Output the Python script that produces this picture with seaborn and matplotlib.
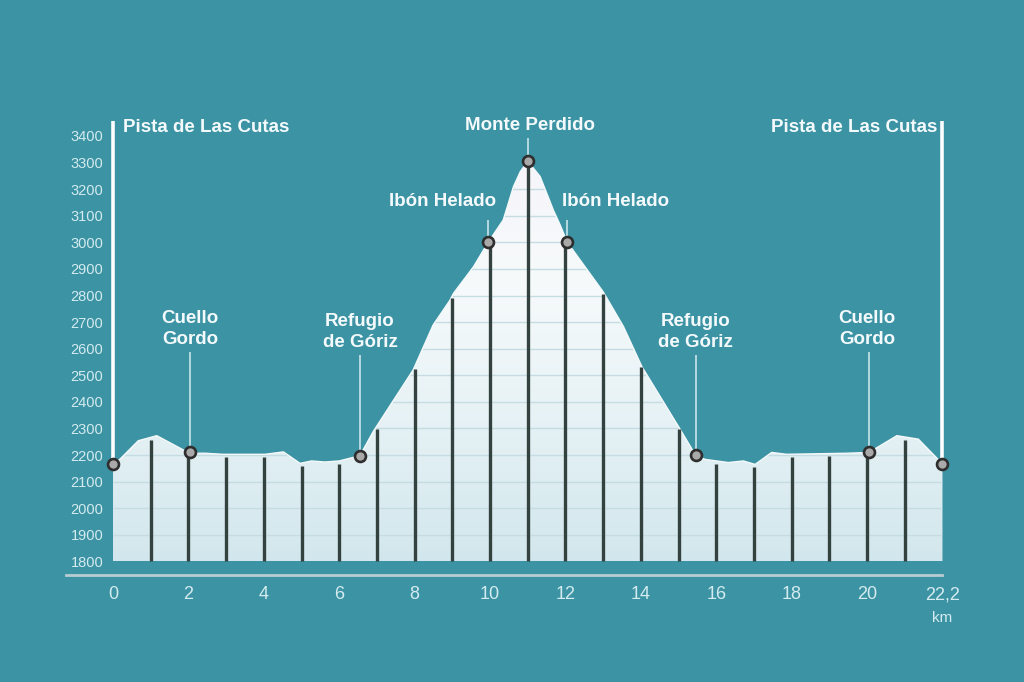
import numpy as np
import matplotlib
matplotlib.use("Agg")
import matplotlib.pyplot as plt
from matplotlib.patches import PathPatch
from matplotlib.colors import LinearSegmentedColormap
import seaborn as sns

# ---------------- data ----------------
dist_km = [0, 0.18, 0.67, 1.16, 1.95, 2.05, 2.44, 2.92, 4.03, 4.52, 4.96, 5.27, 5.62,
           6.0, 6.55, 6.90, 7.96, 8.49, 8.94, 9.03, 9.56, 9.95, 10.35, 10.62, 10.80,
           11.0, 11.33, 11.68, 11.86, 12.05, 13.0, 13.54, 14.03, 15.0, 15.45, 15.7,
           16.32, 16.72, 17.03, 17.47, 17.87, 19.46, 20.05, 20.79, 21.36, 22.0]
elev_m = [2167, 2184, 2254, 2273, 2213, 2207, 2207, 2203, 2203, 2212, 2169, 2178, 2174,
          2178, 2198, 2288, 2520, 2689, 2783, 2808, 2908, 3000, 3084, 3209, 3265,
          3305, 3247, 3121, 3065, 3000, 2814, 2683, 2532, 2307, 2200, 2184,
          2172, 2178, 2165, 2210, 2203, 2207, 2210, 2273, 2260, 2167]

wp_names = ["Pista de Las Cutas", "Cuello\nGordo", "Refugio\nde Góriz", "Ibón Helado",
            "Monte Perdido", "Ibón Helado", "Refugio\nde Góriz", "Cuello\nGordo",
            "Pista de Las Cutas"]
wp_km = [0, 2.05, 6.55, 9.95, 11.0, 12.05, 15.45, 20.05, 22.0]
wp_elev = [2167, 2210, 2198, 3000, 3305, 3000, 2200, 2210, 2167]

km_marks = list(range(1, 22))
y_ticks = list(range(1800, 3401, 100))
x_ticks = [0, 2, 4, 6, 8, 10, 12, 14, 16, 18, 20, 22]
x_labels = ["0", "2", "4", "6", "8", "10", "12", "14", "16", "18", "20", "22,2"]

# ---------------- layout (label placement) ----------------
lab_x = [0.27, 2.04, 6.55, 8.75, 11.05, 13.32, 15.46, 20.0, 21.87]
lab_y = [3433, 2674, 2663, 3152, 3441, 3152, 2663, 2674, 3433]
lab_ha = ["left", "center", "center", "center", "center", "center", "center", "center", "right"]
leader_top = [3457, 2588, 2576, 3084, 3392, 3084, 2576, 2588, 3457]
leader_lw = [2.6, 1.1, 1.1, 1.1, 1.1, 1.1, 1.1, 1.1, 2.6]

BG = "#3b93a4"
sns.set_theme(style="white", rc={"axes.facecolor": BG, "figure.facecolor": BG})
plt.rcParams["font.family"] = ["Liberation Sans", "DejaVu Sans"]

fig = plt.figure(figsize=(10.24, 6.82), dpi=100)
ax = fig.add_axes([66 / 1024, 1 - 575 / 682, 904 / 1024, 475 / 682])

base = y_ticks[0]
xlim = (-1.247, 22.73)
ylim = (1749.2, 3535)

# fill polygon (for clipping)
poly = ax.fill_between(dist_km, elev_m, base, color="none", linewidth=0)
patch = PathPatch(poly.get_paths()[0], transform=ax.transData, facecolor="none",
                  edgecolor="none")
ax.add_patch(patch)

cmap = LinearSegmentedColormap.from_list(
    "snow", [(0, "#d2e7ed"), (0.35, "#e6f2f5"), (0.7, "#f7fafb"), (1.0, "#f6f5fa")])
grad = np.linspace(0, 1, 256).reshape(-1, 1)
im = ax.imshow(grad, cmap=cmap, origin="lower", aspect="auto",
               extent=[dist_km[0], dist_km[-1], base, max(elev_m)], zorder=1)
im.set_clip_path(patch)

# horizontal grid inside the profile
gl = ax.hlines(y_ticks[1:], dist_km[0], dist_km[-1], color="#c6dce3", lw=1.0, zorder=2)
gl.set_clip_path(patch)

# profile edge
sns.lineplot(x=dist_km, y=elev_m, color="#f4f9fa", lw=1.0, estimator=None, ax=ax,
             zorder=3)

# dark km bars
tops = np.interp(km_marks, dist_km, elev_m) - 10
ax.vlines(km_marks, base, tops, color="#34423f", lw=2.4, zorder=4)

# leaders and labels
for name, x, e, lx, ly, ha, lt, lw in zip(wp_names, wp_km, wp_elev, lab_x, lab_y,
                                           lab_ha, leader_top, leader_lw):
    col = "#ffffff" if lw > 2 else "#d6ecf0"
    ax.plot([x, x], [e, lt], color=col, lw=lw, zorder=5, solid_capstyle="butt")
    ax.text(lx, ly, name, ha=ha, va="center", color="#f4fafb", fontsize=13.5,
            fontweight="bold", linespacing=1.3, zorder=7)

sns.scatterplot(x=wp_km, y=wp_elev, s=62, color="#a9a9a9", edgecolor="#2e2e2e",
                linewidth=1.9, zorder=6, ax=ax)

ax.set_xlim(*xlim)
ax.set_ylim(*ylim)

# axes styling
for s in ["top", "right"]:
    ax.spines[s].set_visible(False)
ax.spines["left"].set_position(("data", 0))
ax.spines["left"].set_visible(False)
ax.spines["bottom"].set_color("#b9cdd1")
ax.spines["bottom"].set_linewidth(2)
ax.spines["bottom"].set_bounds(xlim[0], dist_km[-1])

ax.set_yticks(y_ticks)
ax.set_yticklabels([str(v) for v in y_ticks])
ax.set_xticks(x_ticks)
ax.set_xticklabels(x_labels)
ax.tick_params(axis="y", length=0, pad=7, labelsize=10.5, labelcolor="#d4ebef")
ax.tick_params(axis="x", length=0, pad=8, labelsize=13, labelcolor="#d4ebef")
ax.annotate("km", xy=(x_ticks[-1], ylim[0]), xycoords="data", xytext=(0, -31),
            textcoords="offset points", ha="center", va="center", fontsize=11,
            color="#d4ebef", annotation_clip=False)
ax.grid(False)

fig.savefig("out.png", dpi=100, facecolor=BG)
